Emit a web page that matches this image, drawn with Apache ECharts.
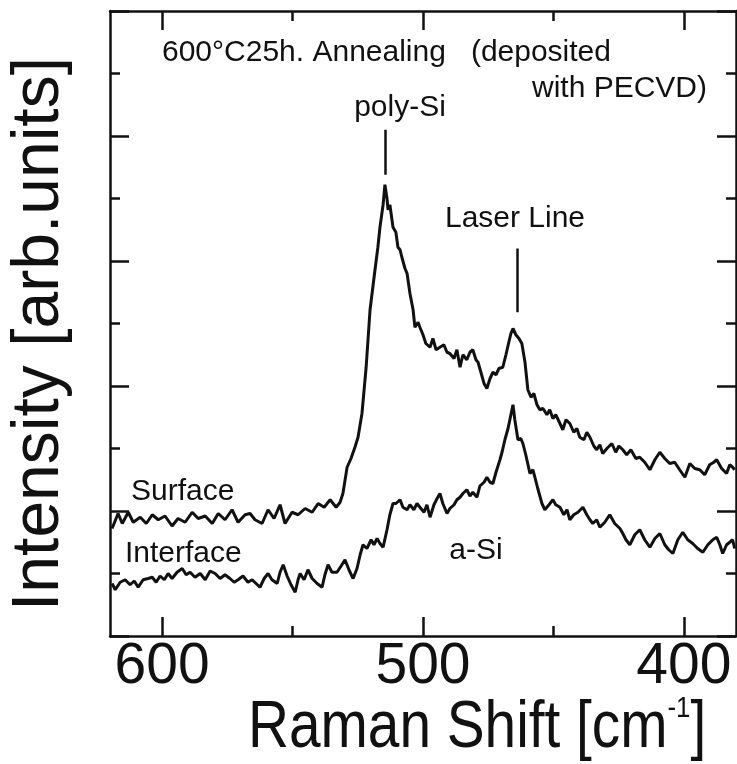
<!DOCTYPE html>
<html>
<head>
<meta charset="utf-8">
<script src="https://cdn.jsdelivr.net/npm/echarts@6/dist/echarts.min.js"></script>
<style>
html,body{margin:0;padding:0;background:#fff;}
#chart{width:737px;height:764px;}
</style>
</head>
<body>
<div id="chart"></div>
<script>
// ---- data ----
const surfaceShift = [
  619.2,616.9,615.3,613.0,611.1,608.4,606.1,603.8,601.5,598.9,
  596.2,593.9,591.2,588.5,586.2,583.5,580.8,578.5,575.9,573.2,
  570.9,568.2,566.3,564.4,561.7,559.4,557.1,554.8,552.9,550.2,
  547.9,545.2,542.5,540.2,537.9,535.6,533.3,531.8,530.7,529.1,
  527.6,526.1,524.9,523.4,521.8,520.3,518.4,517.3,516.5,515.3,
  514.6,513.8,513.4,512.7,511.5,510.4,509.6,508.8,508.1,506.9,
  506.1,505.0,503.8,503.1,501.9,501.2,500.0,498.9,497.3,496.2,
  495.0,493.5,492.0,490.8,489.7,488.1,487.0,485.8,484.7,483.2,
  482.0,480.9,479.7,478.9,477.8,476.6,475.5,474.3,473.2,472.0,
  470.9,469.4,468.2,467.1,466.3,465.5,464.4,463.2,462.1,460.9,
  459.8,458.6,457.5,456.3,455.2,454.0,452.5,451.4,450.2,449.1,
  447.5,446.4,445.2,443.7,442.2,441.0,439.9,438.3,437.2,436.0,
  434.5,433.4,432.2,431.1,429.5,427.6,426.1,424.9,423.4,421.9,
  420.3,418.4,416.9,415.0,413.0,411.1,409.2,407.3,405.4,403.5,
  401.6,399.6,397.7,395.8,393.9,392.0,390.1,388.5,387.4,385.5,
  383.6,382.4,381.3,380.5
];
const surfaceIntensity = [
  0.86,0.98,0.90,0.99,0.91,0.95,0.90,0.97,0.93,0.96,
  0.88,0.94,0.91,0.99,0.94,0.96,0.90,0.98,0.93,1.01,
  0.91,0.97,0.98,0.93,0.90,1.01,0.94,1.05,0.90,0.99,
  0.97,1.02,0.99,1.06,1.03,1.09,1.03,1.07,1.14,1.35,
  1.42,1.51,1.59,1.78,2.15,2.61,2.93,3.11,3.27,3.45,
  3.61,3.50,3.41,3.45,3.27,3.23,3.11,3.09,3.03,2.94,
  2.90,2.74,2.61,2.47,2.51,2.47,2.41,2.34,2.31,2.38,
  2.29,2.31,2.33,2.27,2.26,2.22,2.29,2.15,2.25,2.21,
  2.27,2.29,2.21,2.19,2.11,2.02,1.98,2.06,2.11,2.09,
  2.14,2.15,2.25,2.35,2.42,2.46,2.41,2.38,2.34,2.19,
  1.97,1.91,1.94,1.85,1.81,1.82,1.77,1.81,1.74,1.77,
  1.70,1.65,1.73,1.70,1.63,1.66,1.59,1.57,1.63,1.59,
  1.52,1.49,1.53,1.46,1.50,1.54,1.47,1.52,1.49,1.45,
  1.49,1.42,1.43,1.39,1.33,1.41,1.47,1.42,1.38,1.39,
  1.33,1.27,1.38,1.34,1.33,1.29,1.37,1.39,1.41,1.34,
  1.30,1.37,1.35,1.33
];
const interfaceShift = [
  619.2,618.0,616.1,614.2,612.3,610.7,609.2,607.3,605.4,603.8,
  602.3,600.8,599.2,597.7,596.2,594.3,592.3,590.8,589.3,587.4,
  585.4,583.5,581.6,579.7,577.8,575.9,574.0,572.4,570.9,569.0,
  567.1,565.5,564.0,562.5,560.9,559.4,557.9,555.9,554.8,553.6,
  552.1,550.6,549.0,547.9,547.1,545.6,544.1,542.5,540.6,538.7,
  537.6,536.4,534.9,533.0,531.4,529.9,528.4,526.8,525.3,524.1,
  523.0,521.5,519.9,518.8,517.6,516.5,515.3,513.8,512.7,511.5,
  510.4,508.8,507.7,506.1,505.0,503.5,502.3,501.2,499.6,498.5,
  497.3,495.8,494.6,493.5,492.4,490.8,489.7,488.1,487.0,485.8,
  484.7,483.2,482.0,480.9,479.3,478.2,476.6,475.5,474.3,473.2,
  472.0,470.5,469.7,468.6,467.4,466.3,465.5,464.8,463.6,462.5,
  461.7,460.6,459.0,457.9,457.1,456.0,454.4,453.3,451.7,450.2,
  449.1,447.5,446.0,444.8,443.7,442.2,440.6,438.7,437.2,436.0,
  434.9,433.4,432.2,430.3,428.4,426.5,424.5,423.4,422.2,420.7,
  418.8,416.9,415.0,413.0,411.1,409.2,407.3,405.8,404.2,402.3,
  400.4,398.5,396.6,394.7,392.7,390.8,388.9,387.4,386.2,385.1,
  383.6,382.4,381.3,380.5
];
const interfaceIntensity = [
  0.42,0.37,0.43,0.45,0.41,0.44,0.39,0.45,0.46,0.47,
  0.43,0.48,0.45,0.50,0.46,0.51,0.54,0.49,0.51,0.47,
  0.50,0.45,0.52,0.50,0.46,0.49,0.46,0.43,0.45,0.48,
  0.43,0.45,0.42,0.39,0.46,0.50,0.45,0.42,0.51,0.57,
  0.48,0.41,0.35,0.45,0.50,0.45,0.53,0.46,0.42,0.39,
  0.49,0.57,0.51,0.51,0.56,0.61,0.53,0.46,0.54,0.65,
  0.73,0.70,0.77,0.73,0.78,0.74,0.71,0.85,0.97,1.06,
  1.06,1.09,1.03,1.01,1.05,1.01,1.06,1.03,0.99,1.05,
  0.95,1.05,1.10,1.14,1.06,0.98,1.02,1.05,1.09,1.11,
  1.14,1.17,1.12,1.15,1.11,1.20,1.23,1.27,1.23,1.22,
  1.31,1.41,1.47,1.57,1.66,1.77,1.85,1.73,1.57,1.58,
  1.54,1.45,1.30,1.33,1.27,1.18,1.06,1.01,1.05,1.09,
  1.05,1.03,0.97,1.01,0.93,0.97,0.99,1.03,0.97,0.93,
  0.90,0.93,0.87,0.91,0.97,0.90,0.86,0.82,0.77,0.73,
  0.81,0.85,0.77,0.71,0.78,0.82,0.73,0.69,0.66,0.77,
  0.83,0.77,0.74,0.70,0.67,0.73,0.77,0.79,0.73,0.66,
  0.73,0.75,0.77,0.70
];
const xMajorTicks = [600, 500, 400];
const xMinorTicks = [550, 450];
// peak marker lines: [shift, from intensity, to intensity]
const polySiMarker = [514.6, 4.05, 3.69];
const laserLineMarker = [464.0, 3.10, 2.59];

// ---- chart ----
const INK = '#111';
const FONT = '"Liberation Sans", Arial, sans-serif';

function xAxisDef(position, ticks, len, showLine, showLabel) {
  return {
    type: 'value', min: 380, max: 620, inverse: true, position: position,
    axisLine: { show: showLine, onZero: false, lineStyle: { color: INK, width: 2.5 } },
    axisTick: { show: true, inside: true, length: len, customValues: ticks,
                lineStyle: { color: INK, width: 2.5 } },
    axisLabel: showLabel ? { show: true, customValues: ticks, fontSize: 57,
                fontFamily: FONT, color: INK, margin: 3 } : { show: false },
    splitLine: { show: false }
  };
}
function yAxisDef(position) {
  return {
    type: 'value', min: 0, max: 5, interval: 1, position: position,
    axisLine: { show: true, onZero: false, lineStyle: { color: INK, width: 2.5 } },
    axisTick: { show: true, inside: true, length: 19, lineStyle: { color: INK, width: 2.5 } },
    minorTick: { show: true, splitNumber: 2, length: 10, lineStyle: { color: INK, width: 2.5 } },
    axisLabel: { show: false },
    splitLine: { show: false }, minorSplitLine: { show: false }
  };
}

const chart = echarts.init(document.getElementById('chart'), null, { renderer: 'canvas' });

const lineStyle = { color: INK, width: 3 };
const ann = (text, x, y, align) => ({
  type: 'text', x: x, y: y,
  style: { text: text, font: '30px ' + FONT, fill: INK, textAlign: align, textVerticalAlign: 'middle' }
});
chart.setOption({
  animation: false,
  backgroundColor: '#fff',
  grid: { left: 110, right: 1, top: 11, bottom: 128, containLabel: false },
  xAxis: [
    xAxisDef('bottom', xMajorTicks, 19, true, true),
    xAxisDef('bottom', xMinorTicks, 10, false, false),
    xAxisDef('top', xMajorTicks, 19, true, false),
    xAxisDef('top', xMinorTicks, 10, false, false)
  ],
  yAxis: [yAxisDef('left'), yAxisDef('right')],
  series: [
    {
      name: 'Surface', type: 'line', xAxisIndex: 0, yAxisIndex: 0,
      showSymbol: false, symbol: 'none', lineStyle: lineStyle,
      data: surfaceShift.map((x, i) => [x, surfaceIntensity[i]]),
      markLine: {
        silent: true, symbol: 'none', label: { show: false },
        lineStyle: { color: INK, width: 2.5, type: 'solid' },
        data: [
          [{ coord: [polySiMarker[0], polySiMarker[1]] }, { coord: [polySiMarker[0], polySiMarker[2]] }],
          [{ coord: [laserLineMarker[0], laserLineMarker[1]] }, { coord: [laserLineMarker[0], laserLineMarker[2]] }]
        ]
      }
    },
    {
      name: 'Interface', type: 'line', xAxisIndex: 0, yAxisIndex: 0,
      showSymbol: false, symbol: 'none', lineStyle: lineStyle,
      data: interfaceShift.map((x, i) => [x, interfaceIntensity[i]])
    }
  ],
  graphic: [
    ann('600°C25h. Annealing   (deposited', 162, 53, 'left'),
    ann('with PECVD)', 707, 89, 'right'),
    ann('poly-Si', 400, 108, 'center'),
    ann('Laser Line', 515, 219, 'center'),
    ann('Surface', 131, 492, 'left'),
    ann('Interface', 125, 554, 'left'),
    ann('a-Si', 476, 551, 'center'),
    { type: 'text', x: 40, y: 334, rotation: Math.PI / 2,
      style: { text: 'Intensity [arb.units]', font: '66px ' + FONT, fill: INK, textAlign: 'center', textVerticalAlign: 'middle' } },
    { type: 'text', x: 248, y: 729, scaleX: 0.86, scaleY: 1,
      style: {
        text: '{m|Raman Shift [cm}{s|-1}{m|]}', fill: INK, textAlign: 'left', textVerticalAlign: 'middle',
        rich: {
          m: { fontSize: 66, fontFamily: FONT, lineHeight: 70, fill: INK },
          s: { fontSize: 30, fontFamily: FONT, lineHeight: 24, verticalAlign: 'top', fill: INK }
        }
      } }
  ]
});
</script>
</body>
</html>
